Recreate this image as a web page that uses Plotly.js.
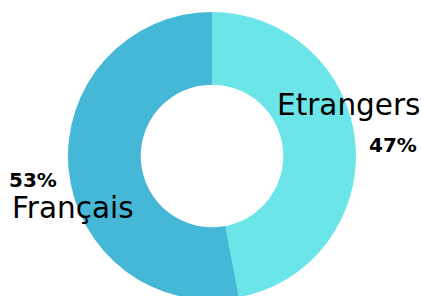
<!DOCTYPE html>
<html><head><meta charset="utf-8">
<script src="https://cdn.plot.ly/plotly-3.0.1.min.js"></script>
<style>html,body{margin:0;padding:0;overflow:hidden;background:#fff}#c{width:421px;height:300px}</style>
</head><body><div id="c"></div>
<script>
const categories = ["Etrangers", "Français"];
const values = [47, 53];
const colors = ["#6ce5e8", "#45b8d7"];

const fontName = "DejaVu Sans";
const data = [{
  type: "pie",
  labels: categories,
  values: values,
  sort: false,
  direction: "clockwise",
  rotation: 0,
  hole: 0.495,
  marker: {colors: colors, line: {width: 0}},
  textinfo: "none",
  hoverinfo: "none",
  domain: {x: [68/421, 356/421], y: [0, 288/300]},
  showlegend: false
}];
const pct = values.map(v => Math.round(v / values.reduce((a,b)=>a+b,0) * 100) + "%");
const layout = {
  width: 421, height: 300,
  margin: {l:0, r:0, t:0, b:0},
  paper_bgcolor: "#fff",
  showlegend: false,
  annotations: [
    {text: categories[0], x: 348/421, y: 1-105/300, xref:"paper", yref:"paper", showarrow:false, xanchor:"center", yanchor:"middle", font:{family:fontName, size:29.5, color:"#000"}},
    {text: "<b>"+pct[0]+"</b>", x: 393/421, y: 1-145/300, xref:"paper", yref:"paper", showarrow:false, xanchor:"center", yanchor:"middle", font:{family:fontName, size:20, color:"#000"}},
    {text: "<b>"+pct[1]+"</b>", x: 33/421, y: 1-180/300, xref:"paper", yref:"paper", showarrow:false, xanchor:"center", yanchor:"middle", font:{family:fontName, size:20, color:"#000"}},
    {text: categories[1], x: 73/421, y: 1-208/300, xref:"paper", yref:"paper", showarrow:false, xanchor:"center", yanchor:"middle", font:{family:fontName, size:29.5, color:"#000"}}
  ]
};
Plotly.newPlot("c", data, layout, {displayModeBar:false, staticPlot:true});
</script></body></html>
